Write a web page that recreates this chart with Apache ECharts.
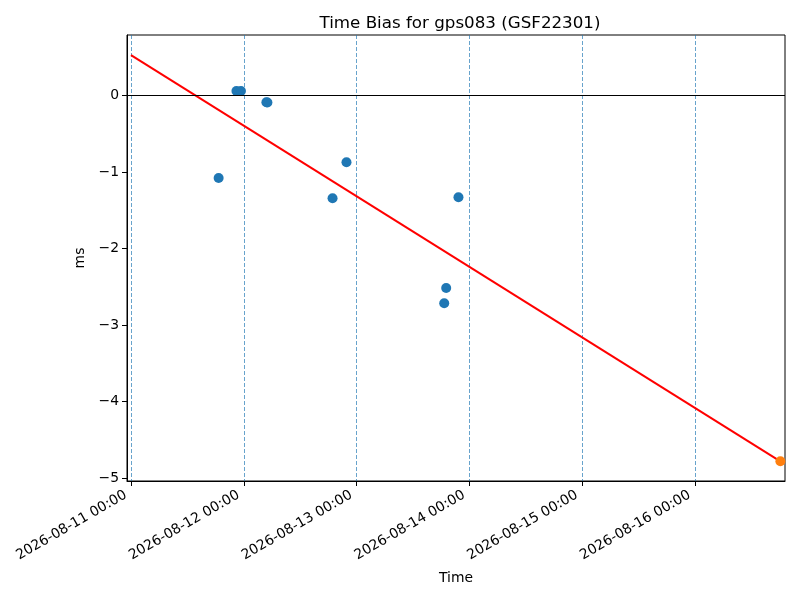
<!DOCTYPE html>
<html><head><meta charset="utf-8">
<script src="https://cdn.jsdelivr.net/npm/echarts@6/dist/echarts.min.js"></script>
<style>html,body{margin:0;padding:0;background:#fff}#c{width:800px;height:600px}</style>
</head><body><div id="c"></div>
<script>
// Measured time-bias points (ms)
const biasTimes = ['2026-08-11T18:39:00Z','2026-08-11T22:27:00Z','2026-08-11T23:24:00Z','2026-08-12T04:49:00Z','2026-08-12T05:02:00Z','2026-08-12T18:54:00Z','2026-08-12T21:52:00Z','2026-08-13T18:40:00Z','2026-08-13T19:05:00Z','2026-08-13T21:42:00Z'];
const biasValues = [-1.08, 0.056, 0.056, -0.091, -0.093, -1.345, -0.875, -2.715, -2.516, -1.332];
// Predicted point
const predTimes = ['2026-08-16T18:13:00Z'];
const predValues = [-4.778];
// Fit line endpoints
const fitTimes = ['2026-08-11T00:00:00Z','2026-08-16T18:13:00Z'];
const fitValues = [0.525, -4.778];
// Ticks and ranges
const xTickTimes = ['2026-08-11T00:00:00Z','2026-08-12T00:00:00Z','2026-08-13T00:00:00Z','2026-08-14T00:00:00Z','2026-08-15T00:00:00Z','2026-08-16T00:00:00Z'];
const yTicks = [-5,-4,-3,-2,-1,0];
const xRange = ['2026-08-10T23:09:00Z','2026-08-16T19:12:00Z'];
const yRange = [-5.035, 0.787];

const t = s => Date.parse(s);
const pad = n => String(n).padStart(2,'0');
const fmtTime = v => { const d = new Date(v); return d.getUTCFullYear()+'-'+pad(d.getUTCMonth()+1)+'-'+pad(d.getUTCDate())+' '+pad(d.getUTCHours())+':'+pad(d.getUTCMinutes()); };
const FONT = 'DejaVu Sans';

const chart = echarts.init(document.getElementById('c'), null, {renderer:'canvas'});
chart.setOption({
  animation: false,
  backgroundColor: '#fff',
  title: { text: 'Time Bias for gps083 (GSF22301)', left: 455, top: 10, textAlign: 'center',
    textStyle: { fontFamily: FONT, fontSize: 16.7, fontWeight: 'normal', color: '#000' } },
  grid: { left: 127, right: 15, top: 35, bottom: 119, show: true, borderColor: '#000', borderWidth: 1, outerBoundsMode: 'none' },
  xAxis: {
    type: 'value', min: t(xRange[0]), max: t(xRange[1]),
    name: 'Time', nameLocation: 'middle', nameGap: 90,
    nameTextStyle: { fontFamily: FONT, fontSize: 13.9, color: '#000' },
    axisLine: { show: true, onZero: false, lineStyle: { color: '#000', width: 1 } },
    axisTick: { show: true, length: 5, lineStyle: { color: '#000', width: 1 }, customValues: xTickTimes.map(t) },
    axisLabel: { customValues: xTickTimes.map(t), formatter: fmtTime, rotate: 30, margin: 10, padding: [0, 6, 0, 0],
      fontFamily: FONT, fontSize: 13.9, color: '#000' },
    splitLine: { show: true, lineStyle: { color: 'rgba(31,119,180,0.85)', width: 0.8, type: [4,2] } }
  },
  yAxis: {
    type: 'value', min: yRange[0], max: yRange[1],
    name: 'ms', nameLocation: 'middle', nameGap: 32,
    nameTextStyle: { fontFamily: FONT, fontSize: 13.9, color: '#000' },
    axisLine: { show: true, onZero: false, lineStyle: { color: '#000', width: 1 } },
    axisTick: { show: true, length: 5, lineStyle: { color: '#000', width: 1 }, customValues: yTicks },
    axisLabel: { customValues: yTicks, formatter: v => String(v).replace('-', '\u2212'), margin: 8,
      fontFamily: FONT, fontSize: 13.9, color: '#000' },
    splitLine: { show: false }
  },
  series: [
    { type: 'line', z: 2, data: fitTimes.map((s,i)=>[t(s), fitValues[i]]), symbol: 'none',
      lineStyle: { color: '#ff0000', width: 2 },
      markLine: { silent: true, symbol: 'none', label: { show: false },
        lineStyle: { color: '#000', width: 1, type: 'solid' }, data: [{ yAxis: 0 }] } },
    { type: 'scatter', z: 3, data: biasTimes.map((s,i)=>[t(s), biasValues[i]]), symbolSize: 10,
      itemStyle: { color: '#1f77b4', opacity: 1 } },
    { type: 'scatter', z: 4, data: predTimes.map((s,i)=>[t(s), predValues[i]]), symbolSize: 10,
      itemStyle: { color: '#ff7f0e', opacity: 1 } }
  ]
});
</script></body></html>
